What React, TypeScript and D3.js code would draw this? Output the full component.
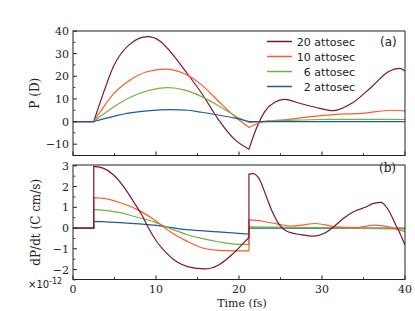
import * as d3 from 'd3';

type Pt = [number, number];

const seriesNames = ['20 attosec', '10 attosec', '6 attosec', '2 attosec'];
const seriesColors = ['#7b1238', '#ff5a2e', '#74b23e', '#1f5b9c'];

// panel (a): polarisation P (D) vs time (fs)
const pol20: Pt[] = [
  [0, 0], [2.5, 0], [3.7, 13], [4.9, 24.5], [6.9, 34.3], [9.0, 37.5], [10.5, 35.5], [11.7, 31],
  [13.5, 22.5], [15.5, 12.5], [17.5, 1], [19.5, -8], [21.2, -12.2], [22.1, -3], [23.1, 4.4],
  [24.3, 8.5], [25.5, 9.8], [27.2, 8.2], [29.2, 6.3], [31.4, 4.8], [33.6, 8.1], [36, 15.4],
  [38, 22], [39.4, 23.5], [40, 22.3],
];
const pol10: Pt[] = [
  [0, 0], [2.5, 0], [3.7, 6.5], [4.9, 12.3], [6.9, 18.4], [8.9, 22], [11.1, 23.2], [13.5, 21],
  [15.5, 16.2], [17.5, 9.1], [19.5, 2.2], [21.2, -2.6], [22.7, -0.3], [25.5, 0.8], [27, 1.4],
  [29, 2.3], [31.4, 3.1], [34.8, 3.6], [38.4, 5], [40, 4.7],
];
const pol6: Pt[] = [
  [0, 0], [2.5, 0], [3.7, 3.3], [4.9, 6.4], [6.9, 10.7], [8.9, 13.5], [11.5, 15], [13.5, 13.9],
  [15.5, 11], [17.5, 7], [19.5, 2.6], [21.2, -0.45], [23, 0.1], [26, 0.5], [30, 0.9], [35, 1],
  [40, 0.9],
];
const pol2: Pt[] = [
  [0, 0], [2.5, 0], [4.9, 2.3], [6.9, 3.8], [8.9, 4.7], [11.8, 5.3], [13.9, 5], [15.5, 4.1],
  [17.5, 2.9], [19.5, 1.5], [21.2, 0], [40, 0],
];

// panel (b): dP/dt (x1e-12 C cm/s)
const der20: Pt[] = [
  [0, 0], [2.5, 0], [2.5, 2.97], [3.7, 2.88], [4.9, 2.56], [6.1, 2.0], [7.3, 1.27], [8.3, 0.63],
  [9.1, 0], [10.1, -0.66], [11.3, -1.22], [12.5, -1.63], [13.9, -1.87], [15.9, -1.97],
  [17.5, -1.79], [19.1, -1.3], [20.5, -0.74], [21.2, -0.45], [21.2, 2.6], [21.7, 2.62],
  [22.5, 2.32], [23.3, 1.51], [24.1, 0.71], [24.9, 0.14], [25.9, -0.18], [27.5, -0.32],
  [29, -0.39], [30.4, -0.23], [31.4, 0.06], [32.6, 0.47], [33.8, 0.79], [35.2, 1.0],
  [36.2, 1.19], [37.1, 1.24], [38, 0.87], [38.8, 0.22], [39.4, -0.26], [40, -0.82],
];
const der10: Pt[] = [
  [0, 0], [2.5, 0], [2.5, 1.47], [3.7, 1.43], [5.7, 1.22], [7.7, 0.9], [9.7, 0.42], [11.7, -0.18],
  [13.7, -0.63], [15.5, -0.95], [17.5, -1.08], [19.5, -1.1], [21.2, -1.1], [21.2, 0.39],
  [22.7, 0.34], [24.7, 0.19], [26.3, 0.1], [27.5, 0.14], [29.2, 0.22], [31.6, 0.06],
  [34, 0.02], [36.4, 0.14], [38, 0.06], [40, -0.18],
];
const der6: Pt[] = [
  [0, 0], [2.5, 0], [2.5, 0.9], [5.7, 0.74], [7.7, 0.52], [9.7, 0.31], [11.7, -0.02],
  [13.7, -0.31], [15.5, -0.5], [17.5, -0.66], [19.5, -0.77], [21.2, -0.79], [21.2, 0.06],
  [30, 0.02], [40, -0.05],
];
const der2: Pt[] = [
  [0, 0], [2.5, 0], [2.5, 0.32], [5.7, 0.26], [9.7, 0.14], [13.7, -0.08], [17.5, -0.18],
  [21.2, -0.29], [21.2, 0], [40, 0],
];

const breakTimes = [2.5, 21.2];
const xTicks = [0, 10, 20, 30, 40];
const polTicks = [-10, 0, 10, 20, 30, 40];
const derTicks = [-2, -1, 0, 1, 2, 3];

const W = 415;
const H = 311;
const left = 73;
const right = 405;
const serif = 'DejaVu Serif';
const sans = 'DejaVu Sans';

const x = d3.scaleLinear().domain([0, 40]).range([left, right]);
const yA = d3.scaleLinear().domain([-15, 40]).range([155.5, 31]);
const yB = d3.scaleLinear().domain([-2.48, 3.04]).range([279.5, 165]);

// split at the pulse times so kinks and jumps stay sharp
function segments(pts: Pt[]): Pt[][] {
  const segs: Pt[][] = [[pts[0]]];
  for (let i = 1; i < pts.length; i++) {
    const p = pts[i];
    const q = pts[i - 1];
    if (p[0] === q[0]) {
      segs.push([p]);
      continue;
    }
    segs[segs.length - 1].push(p);
    const n = pts[i + 1];
    if (breakTimes.includes(p[0]) && n && n[0] !== p[0]) segs.push([p]);
  }
  return segs;
}

function pathFor(pts: Pt[], y: d3.ScaleLinear<number, number>) {
  const line = d3
    .line<Pt>()
    .x((d) => x(d[0]))
    .y((d) => y(d[1]))
    .curve(d3.curveMonotoneX);
  return segments(pts)
    .map((s, i) => {
      const d = line(s) || '';
      return i === 0 ? d : 'L' + d.slice(1);
    })
    .join('');
}

function Panel({
  y,
  ticks,
  minor,
  series,
  order,
  top,
  bottom,
  showX,
}: {
  y: d3.ScaleLinear<number, number>;
  ticks: number[];
  minor: number[];
  series: Pt[][];
  order: number[];
  top: number;
  bottom: number;
  showX: boolean;
}) {
  const xMinor = [5, 15, 25, 35];
  return (
    <g>
      <defs>
        <clipPath id={`clip${top}`}>
          <rect x={left} y={top} width={right - left} height={bottom - top} />
        </clipPath>
      </defs>
      <g clipPath={`url(#clip${top})`}>
        {order.map((i) => (
          <path key={i} d={pathFor(series[i], y)} fill="none" stroke={seriesColors[i]} strokeWidth={1.2} />
        ))}
      </g>
      {ticks.map((t) => (
        <g key={t}>
          <line x1={left} x2={left + 4} y1={y(t)} y2={y(t)} stroke="#222" strokeWidth={1} />
          <text x={left - 4} y={y(t) + 4} textAnchor="end" fontFamily={serif} fontSize={11} fill="#222">
            {t < 0 ? `\u2212${-t}` : t}
          </text>
        </g>
      ))}
      {minor.map((t) => (
        <line key={t} x1={left} x2={left + 2.5} y1={y(t)} y2={y(t)} stroke="#222" strokeWidth={0.8} />
      ))}
      {xTicks.map((t) => (
        <g key={t}>
          <line x1={x(t)} x2={x(t)} y1={bottom} y2={bottom - 4} stroke="#222" strokeWidth={1} />
          {showX && (
            <text x={x(t)} y={bottom + 13} textAnchor="middle" fontFamily={serif} fontSize={11} fill="#222">
              {t}
            </text>
          )}
        </g>
      ))}
      {xMinor.map((t) => (
        <line key={t} x1={x(t)} x2={x(t)} y1={bottom} y2={bottom - 2.5} stroke="#222" strokeWidth={0.8} />
      ))}
      <rect x={left} y={top} width={right - left} height={bottom - top} fill="none" stroke="#222" strokeWidth={1} />
    </g>
  );
}

export default function App() {
  const legendY = [41.5, 56.5, 71.5, 86.5];
  return (
    <svg width={W} height={H} style={{ position: 'absolute', left: 0, top: 0 }}>
      <rect width={W} height={H} fill="#fff" />
      <Panel
        y={yA}
        ticks={polTicks}
        minor={[-15, -5, 5, 15, 25, 35]}
        series={[pol20, pol10, pol6, pol2]}
        order={[0, 1, 2, 3]}
        top={31}
        bottom={155.5}
        showX={false}
      />
      <Panel
        y={yB}
        ticks={derTicks}
        minor={[-2.5, -1.5, -0.5, 0.5, 1.5, 2.5]}
        series={[der20, der10, der6, der2]}
        order={[3, 2, 1, 0]}
        top={165}
        bottom={279.5}
        showX={true}
      />
      {seriesNames.map((n, i) => (
        <g key={n}>
          <line x1={267} x2={292} y1={legendY[i]} y2={legendY[i]} stroke={seriesColors[i]} strokeWidth={1.5} />
          <text x={355} y={legendY[i] + 4} textAnchor="end" fontFamily={sans} fontSize={11} fill="#222">
            {n}
          </text>
        </g>
      ))}
      <text x={380} y={46} fontFamily={sans} fontSize={12} fill="#222">(a)</text>
      <text x={379} y={172} fontFamily={serif} fontSize={12} fill="#222">(b)</text>
      <text
        transform={`translate(39,${(yA(40) + yA(-15)) / 2}) rotate(-90)`}
        textAnchor="middle"
        fontFamily={serif}
        fontSize={12}
        fill="#222"
      >
        P (D)
      </text>
      <text
        transform={`translate(40,${(yB(3.04) + yB(-2.48)) / 2}) rotate(-90)`}
        textAnchor="middle"
        fontFamily={serif}
        fontSize={12}
        fill="#222"
      >
        dP/dt (C cm/s)
      </text>
      <text x={28} y={288} fontFamily={sans} fontSize={10} fill="#222">
        ×10<tspan dy={-4} fontSize={8}>-12</tspan>
      </text>
      <text x={(left + right) / 2 + 3} y={307} textAnchor="middle" fontFamily={serif} fontSize={11} fill="#222">
        Time (fs)
      </text>
    </svg>
  );
}
